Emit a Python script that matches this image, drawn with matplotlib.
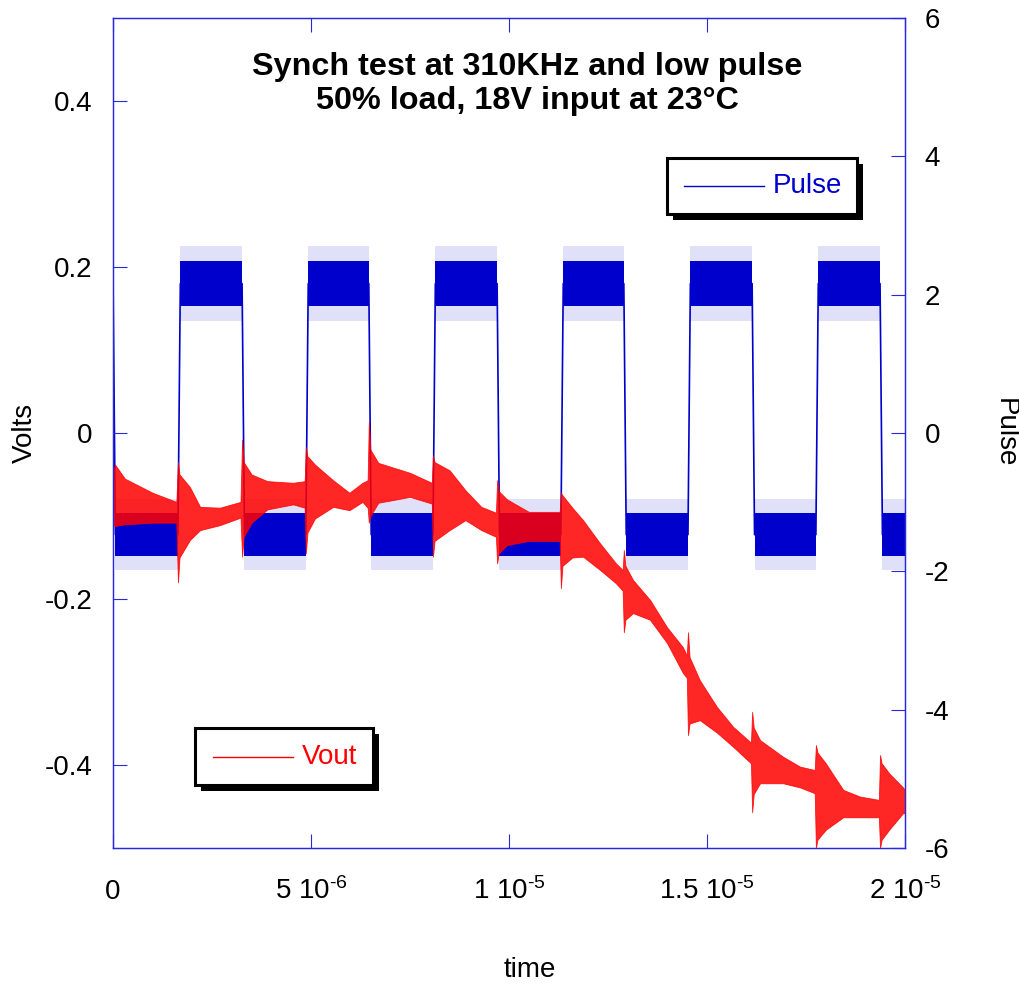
import numpy as np
import matplotlib.pyplot as plt
from matplotlib.patches import Rectangle
from matplotlib.lines import Line2D

plt.rcParams['font.family'] = ['Liberation Sans', 'DejaVu Sans']
plt.rcParams['mathtext.fontset'] = 'custom'
plt.rcParams['mathtext.rm'] = 'Liberation Sans'
plt.rcParams['mathtext.it'] = 'Liberation Sans:italic'
plt.rcParams['axes.unicode_minus'] = False

BLUE = '#0000CC'
RED = '#FF0000'
AXIS_BLUE = '#2828DD'
W, H = 1020, 985
US = 1e-6

# Pulse (right axis) - edge times in microseconds
rise_us = [1.64, 4.87, 8.08, 11.31, 14.52, 17.75]
fall_us = [3.26, 6.46, 9.70, 12.90, 16.14, 19.37]
pulse_start = 2.3          # value at t = 0 before the first drop
edge_us = 0.06             # transition time
high_core = (1.84, 2.48)   # dense noise band, high level
high_fringe = (1.62, 2.70) # sparse spikes, high level
low_core = (-1.78, -1.16)
low_fringe = (-1.98, -0.95)

# Vout (left axis) - noise envelope
vout_t_us = [0.00, 0.05, 0.30, 1.00, 1.60, 1.64, 1.68, 1.94, 2.20, 2.70,
             3.22, 3.26, 3.30, 3.50, 3.90, 4.55, 4.84, 4.87, 4.91, 5.10,
             5.56, 5.97, 6.30, 6.43, 6.46, 6.50, 6.70, 7.50, 8.05, 8.08,
             8.12, 8.50, 8.90, 9.30, 9.67, 9.70, 9.74, 9.95, 10.50, 11.28,
             11.31, 11.35, 11.60, 11.87, 12.30, 12.70, 12.87, 12.90, 12.94, 13.13,
             13.56, 13.99, 14.39, 14.49, 14.52, 14.56, 14.82, 15.25, 15.66, 16.11,
             16.14, 16.18, 16.34, 16.92, 17.35, 17.72, 17.75, 17.79, 18.00, 18.44,
             18.86, 19.34, 19.37, 19.41, 19.60, 19.95, 20.00]
vout_lo = [-0.111, -0.112, -0.110, -0.108, -0.108, -0.180, -0.150, -0.129, -0.117, -0.111,
           -0.102, -0.149, -0.125, -0.108, -0.092, -0.086, -0.090, -0.145, -0.120, -0.103,
           -0.089, -0.093, -0.083, -0.090, -0.108, -0.100, -0.084, -0.077, -0.085, -0.149,
           -0.130, -0.117, -0.105, -0.117, -0.125, -0.157, -0.145, -0.135, -0.130, -0.130,
           -0.187, -0.160, -0.150, -0.149, -0.165, -0.181, -0.190, -0.240, -0.225, -0.217,
           -0.225, -0.253, -0.289, -0.295, -0.364, -0.350, -0.346, -0.361, -0.378, -0.398,
           -0.457, -0.435, -0.422, -0.422, -0.427, -0.434, -0.500, -0.490, -0.478, -0.463,
           -0.463, -0.463, -0.500, -0.490, -0.478, -0.458, -0.458]
vout_hi = [-0.050, -0.038, -0.055, -0.072, -0.083, -0.035, -0.050, -0.065, -0.089, -0.090,
           -0.083, -0.008, -0.035, -0.050, -0.058, -0.060, -0.058, -0.017, -0.028, -0.038,
           -0.057, -0.072, -0.060, -0.057, 0.013, -0.020, -0.036, -0.048, -0.060, -0.027,
           -0.035, -0.045, -0.069, -0.089, -0.096, -0.057, -0.070, -0.080, -0.095, -0.095,
           -0.072, -0.075, -0.090, -0.105, -0.133, -0.157, -0.165, -0.141, -0.160, -0.177,
           -0.201, -0.234, -0.258, -0.268, -0.240, -0.270, -0.298, -0.330, -0.354, -0.373,
           -0.336, -0.355, -0.370, -0.390, -0.402, -0.406, -0.376, -0.385, -0.398, -0.430,
           -0.438, -0.442, -0.388, -0.398, -0.410, -0.427, -0.430]

x_ticks = [0, 5e-6, 1e-5, 1.5e-5, 2e-5]
x_ticklabels = ['0', r'5 10$^{\text{-6}}$', r'1 10$^{\text{-5}}$',
                r'1.5 10$^{\text{-5}}$', r'2 10$^{\text{-5}}$']
v_ticks = [-0.4, -0.2, 0, 0.2, 0.4]
v_ticklabels = ['-0.4', '-0.2', '0', '0.2', '0.4']
p_ticks = [-6, -4, -2, 0, 2, 4, 6]

fig = plt.figure(figsize=(W / 100, H / 100), dpi=100)
ax = fig.add_axes([113 / W, 1 - 848 / H, 792 / W, 830 / H])
ax2 = ax.twinx()

# --- pulse trace ---
low_mid = sum(low_core) / 2
high_mid = sum(high_core) / 2
pt = [0.0, edge_us]
pv = [pulse_start, low_mid]
for r, f in zip(rise_us, fall_us):
    pt += [r, r + edge_us, f, f + edge_us]
    pv += [low_mid, high_mid, high_mid, low_mid]
pt.append(20.0)
pv.append(low_mid)
ax2.plot(np.array(pt) * US, pv, color=BLUE, lw=1.2)

low_starts = [edge_us] + [f + edge_us for f in fall_us]
low_ends = rise_us + [20.0]
high_starts = [r + edge_us for r in rise_us]
high_ends = fall_us
for starts, ends, core, fringe in [(low_starts, low_ends, low_core, low_fringe),
                                   (high_starts, high_ends, high_core, high_fringe)]:
    for s, e in zip(starts, ends):
        seg = np.array([s, e]) * US
        ax2.fill_between(seg, fringe[0], fringe[1], color=BLUE, alpha=0.12, lw=0)
        ax2.fill_between(seg, core[0], core[1], color=BLUE, lw=0)

# --- Vout trace ---
ax.fill_between(np.array(vout_t_us) * US, vout_lo, vout_hi, facecolor=RED,
                edgecolor=RED, lw=0.6, alpha=0.85)

ax.set_zorder(ax2.get_zorder() + 1)
ax.patch.set_visible(False)

ax.set_xlim(0, 2e-5)
ax.set_ylim(-0.5, 0.5)
ax2.set_ylim(-6, 6)

ax.set_xticks(x_ticks, x_ticklabels, va='baseline')
ax.set_yticks(v_ticks, v_ticklabels)
ax2.set_yticks(p_ticks, [str(p) for p in p_ticks])

ax.tick_params(axis='x', direction='in', length=10, width=0.8, color=AXIS_BLUE,
               top=True, labelsize=20, pad=37)
ax.tick_params(axis='y', direction='in', length=10, width=0.8, color=AXIS_BLUE,
               labelsize=20, pad=15)
ax2.tick_params(axis='y', direction='in', length=10, width=0.8, color=AXIS_BLUE,
                labelsize=20, pad=14)
for a in (ax, ax2):
    for sp in a.spines.values():
        sp.set_color(AXIS_BLUE)
        sp.set_linewidth(0.9)

fig.text(25 / W, 1 - 433 / H, 'Volts', rotation=90, ha='center', va='center', fontsize=20)
fig.text(1005 / W, 1 - 433 / H, 'Pulse', rotation=-90, ha='center', va='center', fontsize=20)
fig.text(530 / W, 1 - 970 / H, 'time', ha='center', va='center', fontsize=20)
fig.text(527 / W, 1 - 84 / H, 'Synch test at 310KHz and low pulse\n50% load, 18V input at 23\u00b0C',
         ha='center', va='center', fontsize=23.3, fontweight='bold', linespacing=1.15)


def legend_box(x0, y0, x1, y1, line_x0, line_x1, color, label):
    w, h = (x1 - x0) / W, (y1 - y0) / H
    fig.add_artist(Rectangle(((x0 + 6) / W, 1 - (y1 + 6) / H), w, h, facecolor='black',
                             lw=0, transform=fig.transFigure, zorder=5))
    fig.add_artist(Rectangle((x0 / W, 1 - y1 / H), w, h, facecolor='white', edgecolor='black',
                             lw=2.2, transform=fig.transFigure, zorder=6))
    ym = 1 - (y0 + y1) / 2 / H
    fig.add_artist(Line2D([line_x0 / W, line_x1 / W], [ym, ym], color=color, lw=1.0,
                          transform=fig.transFigure, zorder=7))
    fig.text((line_x1 + 9) / W, ym, label, color=color, fontsize=20, ha='left',
             va='center', zorder=7)


legend_box(667, 158, 857, 214, 684, 764, BLUE, 'Pulse')
legend_box(195, 728, 373, 785, 213, 293, RED, 'Vout')

fig.savefig('out.png', dpi=100, facecolor='white')
